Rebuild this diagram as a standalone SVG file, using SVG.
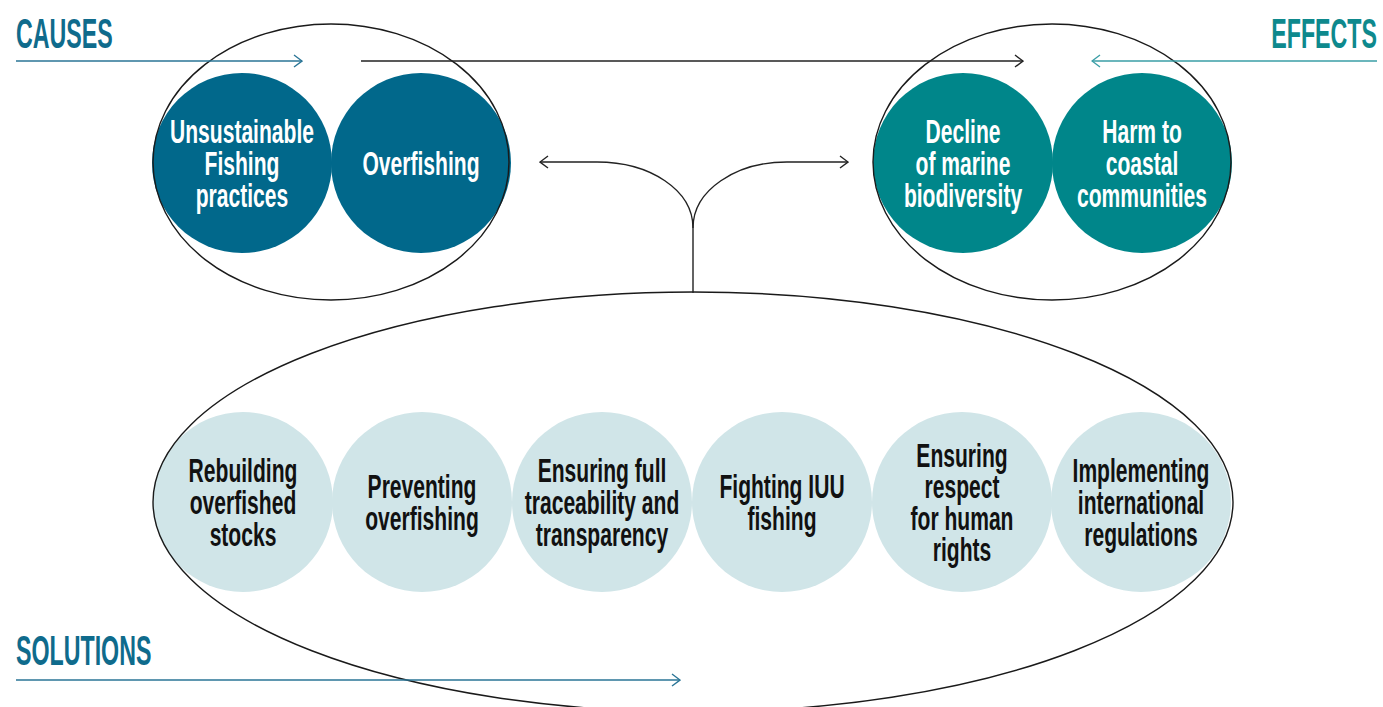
<svg xmlns="http://www.w3.org/2000/svg" width="1383" height="707" viewBox="0 0 1383 707">
<defs>
<style>
.bg{fill:#ffffff}
.cause{fill:#01688b}
.effect{fill:#00868a}
.sol{fill:#d0e5e8}
.ring{fill:none;stroke:#1a1a1a;stroke-width:1.4}
.conn{fill:none;stroke:#222;stroke-width:1.4}
.ct{font-family:"Liberation Sans",Arial,sans-serif;font-weight:bold;font-size:34px;text-anchor:middle}
.w{fill:#ffffff}
.k{fill:#111111}
.hd{font-family:"Liberation Sans",Arial,sans-serif;font-weight:bold;font-size:43px}
</style>
<marker id="ahBlack" viewBox="0 0 10 14" refX="9" refY="7" markerWidth="10" markerHeight="14" markerUnits="userSpaceOnUse" orient="auto">
<path d="M1,1 L9,7 L1,13" fill="none" stroke="#222" stroke-width="1.4"/>
</marker>
<marker id="ahBlue" viewBox="0 0 10 14" refX="9" refY="7" markerWidth="10" markerHeight="14" markerUnits="userSpaceOnUse" orient="auto">
<path d="M1,1 L9,7 L1,13" fill="none" stroke="#2a7596" stroke-width="1.4"/>
</marker>
<marker id="ahTeal" viewBox="0 0 10 14" refX="9" refY="7" markerWidth="10" markerHeight="14" markerUnits="userSpaceOnUse" orient="auto">
<path d="M1,1 L9,7 L1,13" fill="none" stroke="#3a9ea6" stroke-width="1.4"/>
</marker>
</defs>
<rect class="bg" x="0" y="0" width="1383" height="707"/>

<g id="headings">
<g id="causes-label" transform="translate(16,48) scale(0.54,1)"><text class="hd" x="0" y="0" fill="#0f6b8c">CAUSES</text></g>
<g id="effects-label" transform="translate(1377,48) scale(0.54,1)"><text class="hd" x="0" y="0" fill="#0e898d" text-anchor="end">EFFECTS</text></g>
<g id="solutions-label" transform="translate(16,665) scale(0.54,1)"><text class="hd" x="0" y="0" fill="#0f6b8c">SOLUTIONS</text></g>
</g>

<g id="cause-nodes">
<g id="n-unsustainable">
<circle class="cause" cx="242" cy="163" r="90"/>
<g transform="translate(242,0) scale(0.62,1)"><text class="ct w" x="0" y="143">Unsustainable</text><text class="ct w" x="0" y="175">Fishing</text><text class="ct w" x="0" y="207">practices</text></g>
</g>
<g id="n-overfishing">
<circle class="cause" cx="421" cy="163" r="90"/>
<g transform="translate(421,0) scale(0.62,1)"><text class="ct w" x="0" y="175">Overfishing</text></g>
</g>
</g>

<g id="effect-nodes">
<g id="n-decline">
<circle class="effect" cx="963" cy="163" r="90"/>
<g transform="translate(963,0) scale(0.62,1)"><text class="ct w" x="0" y="143">Decline</text><text class="ct w" x="0" y="175">of marine</text><text class="ct w" x="0" y="207">biodiversity</text></g>
</g>
<g id="n-harm">
<circle class="effect" cx="1142" cy="163" r="90"/>
<g transform="translate(1142,0) scale(0.62,1)"><text class="ct w" x="0" y="143">Harm to</text><text class="ct w" x="0" y="175">coastal</text><text class="ct w" x="0" y="207">communities</text></g>
</g>
</g>

<g id="solution-nodes">
<g id="n-rebuilding">
<circle class="sol" cx="243" cy="502" r="90"/>
<g transform="translate(243,0) scale(0.62,1)"><text class="ct k" x="0" y="482">Rebuilding</text><text class="ct k" x="0" y="514">overfished</text><text class="ct k" x="0" y="546">stocks</text></g>
</g>
<g id="n-preventing">
<circle class="sol" cx="422" cy="502" r="90"/>
<g transform="translate(422,0) scale(0.62,1)"><text class="ct k" x="0" y="498">Preventing</text><text class="ct k" x="0" y="530">overfishing</text></g>
</g>
<g id="n-traceability">
<circle class="sol" cx="602" cy="502" r="90"/>
<g transform="translate(602,0) scale(0.62,1)"><text class="ct k" x="0" y="482">Ensuring full</text><text class="ct k" x="0" y="514">traceability and</text><text class="ct k" x="0" y="546">transparency</text></g>
</g>
<g id="n-iuu">
<circle class="sol" cx="782" cy="502" r="90"/>
<g transform="translate(782,0) scale(0.62,1)"><text class="ct k" x="0" y="498">Fighting IUU</text><text class="ct k" x="0" y="530">fishing</text></g>
</g>
<g id="n-rights">
<circle class="sol" cx="962" cy="502" r="90"/>
<g transform="translate(962,0) scale(0.62,1)"><text class="ct k" x="0" y="467">Ensuring</text><text class="ct k" x="0" y="498">respect</text><text class="ct k" x="0" y="530">for human</text><text class="ct k" x="0" y="561">rights</text></g>
</g>
<g id="n-regulations">
<circle class="sol" cx="1141" cy="502" r="90"/>
<g transform="translate(1141,0) scale(0.62,1)"><text class="ct k" x="0" y="482">Implementing</text><text class="ct k" x="0" y="514">international</text><text class="ct k" x="0" y="546">regulations</text></g>
</g>
</g>

<g id="groups">
<ellipse id="causes-ring" class="ring" cx="331" cy="162" rx="178" ry="138"/>
<ellipse id="effects-ring" class="ring" cx="1052" cy="162" rx="179" ry="138"/>
<ellipse id="solutions-ring" class="ring" cx="693" cy="502" rx="540" ry="210"/>
</g>

<g id="connectors">
<line x1="16" y1="61" x2="302" y2="61" stroke="#2a7596" stroke-width="1.4" marker-end="url(#ahBlue)"/>
<line x1="1377" y1="61" x2="1092" y2="61" stroke="#3a9ea6" stroke-width="1.4" marker-end="url(#ahTeal)"/>
<line class="conn" x1="361" y1="61" x2="1023" y2="61" marker-end="url(#ahBlack)"/>
<line x1="16" y1="680" x2="680" y2="680" stroke="#2a7596" stroke-width="1.4" marker-end="url(#ahBlue)"/>
<path class="conn" d="M693,293 L693,228 C693,190 650,162 597,162 L540,162" marker-end="url(#ahBlack)"/>
<path class="conn" d="M693,228 C693,190 736,162 787,162 L848,162" marker-end="url(#ahBlack)"/>
</g>
</svg>
